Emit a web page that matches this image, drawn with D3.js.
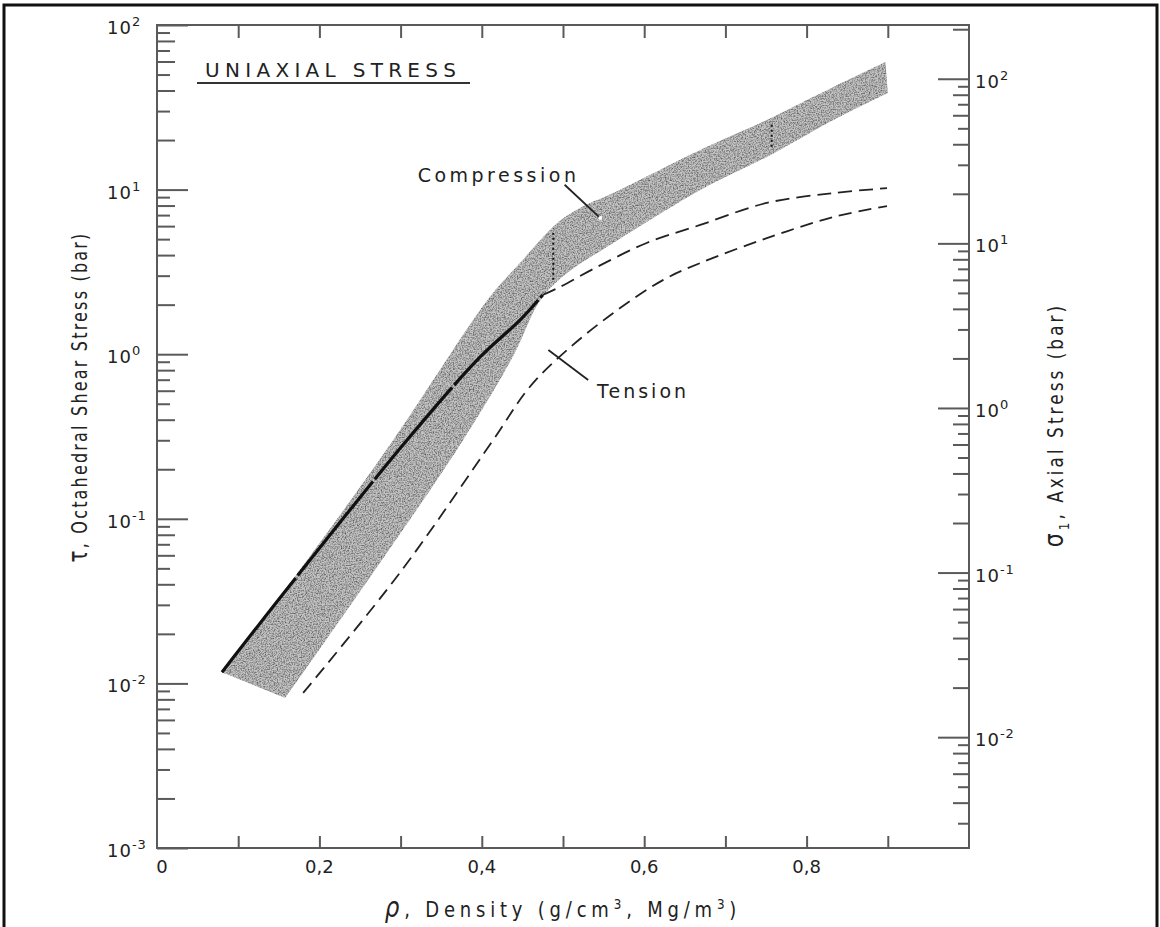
<!DOCTYPE html>
<html>
<head>
<meta charset="utf-8">
<script src="https://cdn.jsdelivr.net/npm/d3@7/dist/d3.min.js"></script>
<style>
  body { margin: 0; background: #fff; }
  svg { display: block; }
  text { font-family: "DejaVu Sans", "Liberation Sans", sans-serif; fill: #222; }
</style>
</head>
<body>
<svg id="chart" width="1160" height="927"></svg>
<script>
// --- chart data (density in g/cm3, octahedral shear stress in bar) ---
const xTickValues = [0.1, 0.2, 0.3, 0.4, 0.5, 0.6, 0.7, 0.8, 0.9];
const xLabelValues = [0, 0.2, 0.4, 0.6, 0.8];
const xLabelText = ["0", "0,2", "0,4", "0,6", "0,8"];
const leftDecades = [-3, -2, -1, 0, 1, 2];
const rightDecades = [-2, -1, 0, 1, 2];

// compression band: upper edge left to right, lower edge right to left
const bandUpper = [
    [0.080, 0.0117], [0.164, 0.0407], [0.291, 0.301], [0.410, 2.23], [0.447, 3.58],
    [0.493, 6.27], [0.521, 7.73], [0.562, 9.53], [0.669, 17.4], [0.751, 26.5],
    [0.833, 42.0], [0.897, 59.6]
];
const bandLower = [
    [0.900, 38.6], [0.833, 26.5], [0.751, 15.8], [0.669, 9.95], [0.603, 6.35],
    [0.554, 4.48], [0.505, 3.11], [0.472, 2.13], [0.438, 0.962], [0.377, 0.301],
    [0.283, 0.0619], [0.158, 0.00815]
];
// tension curves
const tensionUpper = [
    [0.080, 0.0117], [0.164, 0.0396], [0.308, 0.301], [0.398, 0.962], [0.447, 1.61],
    [0.475, 2.29], [0.496, 2.56], [0.542, 3.39], [0.603, 4.74], [0.669, 6.10],
    [0.751, 8.30], [0.833, 9.53], [0.899, 10.2]
];
const tensionLower = [
    [0.180, 0.00875], [0.299, 0.0469], [0.414, 0.301], [0.459, 0.632], [0.505, 1.06],
    [0.562, 1.78], [0.623, 2.82], [0.669, 3.58], [0.751, 5.07], [0.833, 6.81],
    [0.899, 7.94]
];
// dotted marks across the band: [x, tauLow, tauHigh]
const bandMarks = [[0.488, 2.83, 5.45], [0.757, 18.2, 25.4]];

// --- drawing ---
const svg = d3.select("#chart");
const plot = { left: 157, right: 969, top: 25, bottom: 848 };
const sigmaPerTau = 3 / Math.SQRT2;   // uniaxial: sigma1 = 3/sqrt(2) * tau_oct

const x = d3.scaleLinear().domain([0, 1.0]).range([plot.left, plot.right]);
const y = d3.scaleLog().domain([1e-3, 1e2]).range([plot.bottom, plot.top]);
const yRight = d3.scaleLog().domain([1e-3 * sigmaPerTau, 1e2 * sigmaPerTau]).range([plot.bottom, plot.top]);

const ink = "#222";
const axisGrey = "#5a5a5a";

// page frame
svg.append("path")
    .attr("d", "M4,940V5H1157V940")
    .attr("fill", "none").attr("stroke", "#111").attr("stroke-width", 3);

// speckle texture for the band
const defs = svg.append("defs");
const f = defs.append("filter").attr("id", "speckle")
    .attr("x", 0).attr("y", 0).attr("width", 1).attr("height", 1);
f.append("feTurbulence").attr("type", "fractalNoise").attr("baseFrequency", 0.75)
    .attr("numOctaves", 2).attr("seed", 5).attr("result", "noise");
f.append("feColorMatrix").attr("in", "noise").attr("type", "matrix")
    .attr("values", "0 0 0 0 0.1  0 0 0 0 0.1  0 0 0 0 0.1  2.1 0 0 0 -0.8");

const line = d3.line().x(d => x(d[0])).y(d => y(d[1])).curve(d3.curveCatmullRom.alpha(0.5));
const bandPath = line(bandUpper) + line(bandLower).replace(/^M/, "L") + "Z";

defs.append("clipPath").attr("id", "bandClip").append("path").attr("d", bandPath);

svg.append("path").attr("d", bandPath).attr("fill", "#c4c4c4");
svg.append("rect")
    .attr("x", plot.left).attr("y", plot.top)
    .attr("width", plot.right - plot.left).attr("height", plot.bottom - plot.top)
    .attr("fill", "#000")
    .attr("filter", "url(#speckle)")
    .attr("clip-path", "url(#bandClip)");

// dotted marks inside band
svg.append("g").selectAll("line").data(bandMarks).join("line")
    .attr("x1", d => x(d[0])).attr("x2", d => x(d[0]))
    .attr("y1", d => y(d[1])).attr("y2", d => y(d[2]))
    .attr("stroke", "#111").attr("stroke-width", 2).attr("stroke-dasharray", "2,3");

// tension curves
const splitX = 0.475;
svg.append("path")
    .attr("d", line(tensionUpper.filter(d => d[0] <= splitX)))
    .attr("fill", "none").attr("stroke", "#111").attr("stroke-width", 3.2)
    .attr("stroke-dasharray", "120,3");
svg.append("path")
    .attr("d", line(tensionUpper.filter(d => d[0] >= splitX)))
    .attr("fill", "none").attr("stroke", ink).attr("stroke-width", 1.8)
    .attr("stroke-dasharray", "14,7");
svg.append("path")
    .attr("d", line(tensionLower))
    .attr("fill", "none").attr("stroke", ink).attr("stroke-width", 1.8)
    .attr("stroke-dasharray", "13,7");

// axes frame
svg.append("rect")
    .attr("x", plot.left).attr("y", plot.top)
    .attr("width", plot.right - plot.left).attr("height", plot.bottom - plot.top)
    .attr("fill", "none").attr("stroke", axisGrey).attr("stroke-width", 2);

function minorValues(decades) {
    const out = [];
    decades.forEach(e => {
        for (let k = 2; k <= 9; k++) out.push({ v: k * Math.pow(10, e), k: k });
    });
    return out;
}

function drawTicks(g, axisFn, scale, values, size) {
    g.call(axisFn(scale).tickValues(values).tickSize(size).tickFormat(""))
        .call(s => s.select(".domain").remove())
        .call(s => s.selectAll(".tick line").attr("stroke", axisGrey).attr("stroke-width", 2));
}

// left axis ticks (inward)
const leftMinor = minorValues([-3, -2, -1, 0, 1]);
const gl = svg.append("g").attr("transform", `translate(${plot.left},0)`);
drawTicks(gl.append("g"), d3.axisRight, y, leftDecades.map(e => Math.pow(10, e)), 31);
drawTicks(gl.append("g"), d3.axisRight, y, leftMinor.filter(d => d.k % 2 === 0).map(d => d.v), 18);
drawTicks(gl.append("g"), d3.axisRight, y, leftMinor.filter(d => d.k % 2 === 1).map(d => d.v), 13);

// right axis ticks (inward)
const rightMinor = minorValues([-3, -2, -1, 0, 1, 2])
    .filter(d => d.v >= yRight.domain()[0] && d.v <= yRight.domain()[1]);
const gr = svg.append("g").attr("transform", `translate(${plot.right},0)`);
drawTicks(gr.append("g"), d3.axisLeft, yRight, rightDecades.map(e => Math.pow(10, e)), 31);
drawTicks(gr.append("g"), d3.axisLeft, yRight, rightMinor.filter(d => d.k % 2 === 0).map(d => d.v), 16);
drawTicks(gr.append("g"), d3.axisLeft, yRight, rightMinor.filter(d => d.k % 2 === 1).map(d => d.v), 11);

// top and bottom ticks (inward)
drawTicks(svg.append("g").attr("transform", `translate(0,${plot.top})`), d3.axisBottom, x, xTickValues, 13);
drawTicks(svg.append("g").attr("transform", `translate(0,${plot.bottom})`), d3.axisTop, x, xTickValues, 12);

// power-of-ten labels
function powerLabel(g, px, py, e) {
    const t = g.append("text").attr("x", px).attr("y", py)
        .attr("font-size", 18).attr("letter-spacing", 1);
    t.append("tspan").text("10");
    t.append("tspan").attr("font-size", 13).attr("dy", -8).text(e);
}
const labels = svg.append("g");
leftDecades.forEach(e => powerLabel(labels, 107, y(Math.pow(10, e)) + 9, e < 0 ? "-" + (-e) : e));
rightDecades.forEach(e => powerLabel(labels, 975, yRight(Math.pow(10, e)) + 9, e < 0 ? "-" + (-e) : e));

// x labels
labels.selectAll(".xl").data(xLabelValues).join("text")
    .attr("class", "xl")
    .attr("x", (d, i) => x(d) + (i === 0 ? 5 : 0))
    .attr("y", 873)
    .attr("text-anchor", "middle")
    .attr("font-size", 18)
    .text((d, i) => xLabelText[i]);

// axis titles (tall, narrow lettering)
const xt = svg.append("text")
    .attr("transform", "translate(563,917) scale(1,1.2)")
    .attr("text-anchor", "middle")
    .attr("font-size", 18).attr("letter-spacing", 4.8);
xt.append("tspan").attr("font-style", "italic").attr("font-size", 23).text("ρ");
xt.append("tspan").text(",  Density (g/cm");
xt.append("tspan").attr("font-size", 12).attr("dy", -7).text("3");
xt.append("tspan").attr("dy", 7).text(", Mg/m");
xt.append("tspan").attr("font-size", 12).attr("dy", -7).text("3");
xt.append("tspan").attr("dy", 7).text(")");

const ylt = svg.append("text")
    .attr("transform", "translate(87,397) rotate(-90) scale(1,1.3)")
    .attr("text-anchor", "middle").attr("font-size", 16).attr("letter-spacing", 2.2);
ylt.append("tspan").attr("font-size", 20).text("τ");
ylt.append("tspan").text(",  Octahedral Shear Stress  (bar)");

const yrt = svg.append("text")
    .attr("transform", "translate(1063,425) rotate(-90) scale(1,1.2)")
    .attr("text-anchor", "middle").attr("font-size", 17).attr("letter-spacing", 3);
yrt.append("tspan").attr("font-size", 22).text("σ");
yrt.append("tspan").attr("font-size", 12).attr("dy", 5).text("1");
yrt.append("tspan").attr("dy", -5).text(",  Axial Stress  (bar)");

// title
svg.append("text").attr("x", 205).attr("y", 77)
    .attr("font-size", 20).attr("letter-spacing", 5.3).text("UNIAXIAL STRESS");
svg.append("line").attr("x1", 197).attr("x2", 470).attr("y1", 83).attr("y2", 83)
    .attr("stroke", "#333").attr("stroke-width", 2);

// annotations
const ann = svg.append("g");
ann.append("text").attr("x", x(0.321)).attr("y", y(11.1))
    .attr("font-size", 19).attr("letter-spacing", 3.5).text("Compression");
ann.append("line")
    .attr("x1", x(0.502)).attr("y1", y(10.7)).attr("x2", x(0.546)).attr("y2", y(6.71))
    .attr("stroke", ink).attr("stroke-width", 1.8);
ann.append("circle").attr("cx", x(0.546)).attr("cy", y(6.71)).attr("r", 2).attr("fill", "#fff");
ann.append("text").attr("x", x(0.542)).attr("y", y(0.542))
    .attr("font-size", 19).attr("letter-spacing", 3).text("Tension");
ann.append("line")
    .attr("x1", x(0.482)).attr("y1", y(1.06)).attr("x2", x(0.531)).attr("y2", y(0.697))
    .attr("stroke", ink).attr("stroke-width", 1.8);
</script>
</body>
</html>
